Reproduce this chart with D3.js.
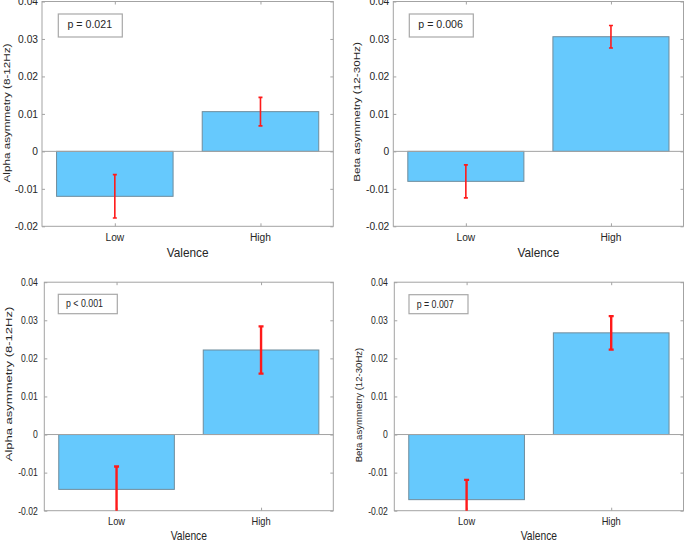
<!DOCTYPE html>
<html>
<head>
<meta charset="utf-8">
<script src="https://cdn.jsdelivr.net/npm/d3@7/dist/d3.min.js"></script>
<style>
html,body{margin:0;padding:0;background:#fff;}
svg{display:block;}
</style>
</head>
<body>
<svg id="chart" width="685" height="542"></svg>
<script>
// ---------- DATA ----------
const categories = ["Low", "High"];
const yTicks = [-0.02, -0.01, 0, 0.01, 0.02, 0.03, 0.04];
const yDomain = [-0.02, 0.04];
const xLabel = "Valence";

const alphaTopMeans = [-0.0120, 0.0106];
const alphaTopErr   = [0.0058, 0.0038];
const betaTopMeans  = [-0.0080, 0.0306];
const betaTopErr    = [0.0044, 0.0030];
const alphaBotMeans = [-0.0144, 0.0222];
const alphaBotErr   = [0.0060, 0.0062];
const betaBotMeans  = [-0.0171, 0.0267];
const betaBotErr    = [0.0052, 0.0044];

const yLabels = ["Alpha asymmetry (8-12Hz)", "Beta asymmetry (12-30Hz)",
                 "Alpha asymmetry (8-12Hz)", "Beta asymmetry (12-30Hz)"];
const pLabels = ["p = 0.021", "p = 0.006", "p < 0.001", "p = 0.007"];

// ---------- LAYOUT (positions / styles only) ----------
const layout = [
  {l:42, r:333.3, t:1.5, b:226.3, tick:{size:11, sx:0.93, gap:4}, cat:{size:11, sx:0.93, y:241},
   xl:{size:12.6, sx:0.94, y:257}, yl:{size:11.7, sx:0.82, x:9.6, y:113},
   box:{x:58.3, y:14, w:64, h:23, tx:67.5, ty:28.2, size:11.2, sx:0.95}, err:{w:1.6, cap:4}},
  {l:393.3, r:683.5, t:1.5, b:226.3, tick:{size:11, sx:0.93, gap:4}, cat:{size:11, sx:0.93, y:241},
   xl:{size:12.6, sx:0.94, y:257}, yl:{size:11.7, sx:0.82, x:359.6, y:112},
   box:{x:409.3, y:14, w:64, h:23, tx:418.3, ty:28.2, size:11.2, sx:0.95}, err:{w:1.6, cap:4}},
  {l:44.3, r:333.3, t:282.2, b:510.7, tick:{size:10.9, sx:0.79, gap:6.5}, cat:{size:11.2, sx:0.83, y:525},
   xl:{size:13, sx:0.79, y:540.3}, yl:{size:13, sx:0.75, x:11.8, y:384},
   box:{x:58.3, y:294.3, w:59, h:19.4, tx:66, ty:307.3, size:11, sx:0.8}, err:{w:2.4, cap:5}},
  {l:394.3, r:683.5, t:282.2, b:510.7, tick:{size:10.9, sx:0.79, gap:6.5}, cat:{size:11.2, sx:0.83, y:525},
   xl:{size:13, sx:0.79, y:540.3}, yl:{size:9.6, sx:1.0, x:362, y:405},
   box:{x:409, y:294.7, w:59, h:19, tx:416.7, ty:307.6, size:11, sx:0.8}, err:{w:2.4, cap:5}}
];

const panelData = [
  {means: alphaTopMeans, errs: alphaTopErr},
  {means: betaTopMeans,  errs: betaTopErr},
  {means: alphaBotMeans, errs: alphaBotErr},
  {means: betaBotMeans,  errs: betaBotErr}
];

const FONT = "'Liberation Sans', Arial, Helvetica, sans-serif";
const TEXT = "#262626";
const AXIS = "#a3a3a3";
const BAR_FILL = "#66c9fd";
const BAR_EDGE = "#6f8c9c";
const ERR = "#ff1a1a";

const svg = d3.select("#chart");

function txt(g, x, y, str, o) {
  let tr = `translate(${x},${y}) scale(${o.sx || 1},1)`;
  if (o.rotate) tr += ` rotate(${o.rotate})`;
  return g.append("text")
    .attr("transform", tr)
    .attr("text-anchor", o.anchor || "start")
    .attr("dy", o.dy || null)
    .style("font-family", FONT)
    .style("font-size", o.size + "px")
    .style("fill", TEXT)
    .text(str);
}

layout.forEach((L, i) => {
  const D = panelData[i];
  const g = svg.append("g");
  const x = d3.scaleLinear().domain([0.5, categories.length + 0.5]).range([L.l, L.r]);
  const y = d3.scaleLinear().domain(yDomain).range([L.b, L.t]);
  const barW = (x(1.4) - x(0.6));

  const clipId = "clip" + i;
  svg.append("defs").append("clipPath").attr("id", clipId)
    .append("rect").attr("x", L.l).attr("y", L.t).attr("width", L.r - L.l).attr("height", L.b - L.t);

  // frame
  g.append("rect").attr("x", L.l).attr("y", L.t).attr("width", L.r - L.l).attr("height", L.b - L.t)
    .attr("fill", "#fff").attr("stroke", AXIS).attr("stroke-width", 1);

  // inward ticks on all four sides
  const yAxisL = d3.axisLeft(y).tickValues(yTicks).tickSizeInner(-3).tickSizeOuter(0).tickFormat("");
  const yAxisR = d3.axisRight(y).tickValues(yTicks).tickSizeInner(-3).tickSizeOuter(0).tickFormat("");
  const xAxisB = d3.axisBottom(x).tickValues(categories.map((c, k) => k + 1)).tickSizeInner(-3).tickSizeOuter(0).tickFormat("");
  const xAxisT = d3.axisTop(x).tickValues(categories.map((c, k) => k + 1)).tickSizeInner(-3).tickSizeOuter(0).tickFormat("");
  [[yAxisL, `translate(${L.l},0)`], [yAxisR, `translate(${L.r},0)`],
   [xAxisB, `translate(0,${L.b})`], [xAxisT, `translate(0,${L.t})`]].forEach(([ax, tr]) => {
    const a = g.append("g").attr("transform", tr).call(ax);
    a.select(".domain").remove();
    a.selectAll(".tick line").attr("stroke", AXIS);
  });

  // y tick labels
  yTicks.forEach(v => {
    txt(g, L.l - L.tick.gap, y(v), v === 0 ? "0" : v.toFixed(2),
        {size: L.tick.size, sx: L.tick.sx, anchor: "end", dy: "0.35em"});
  });

  // category labels
  categories.forEach((c, k) => {
    txt(g, x(k + 1), L.cat.y, c, {size: L.cat.size, sx: L.cat.sx, anchor: "middle"});
  });

  // axis titles
  txt(g, (L.l + L.r) / 2, L.xl.y, xLabel, {size: L.xl.size, sx: L.xl.sx, anchor: "middle"});
  txt(g, L.yl.x, L.yl.y, yLabels[i], {size: L.yl.size, sx: L.yl.sx, anchor: "middle", rotate: -90});

  const plot = g.append("g").attr("clip-path", `url(#${clipId})`);

  // bars
  plot.selectAll("rect.bar").data(D.means).enter().append("rect")
    .attr("class", "bar")
    .attr("x", (d, k) => x(k + 1) - barW / 2)
    .attr("width", barW)
    .attr("y", d => Math.min(y(d), y(0)))
    .attr("height", d => Math.abs(y(d) - y(0)))
    .attr("fill", BAR_FILL)
    .attr("stroke", BAR_EDGE)
    .attr("stroke-width", 1);

  // zero line
  plot.append("line").attr("x1", L.l).attr("x2", L.r).attr("y1", y(0)).attr("y2", y(0))
    .attr("stroke", AXIS).attr("stroke-width", 1);

  // error bars
  D.means.forEach((m, k) => {
    const cx = x(k + 1), e = D.errs[k];
    const eg = plot.append("g").attr("stroke", ERR).attr("stroke-width", L.err.w).attr("fill", "none");
    eg.append("line").attr("x1", cx).attr("x2", cx).attr("y1", y(m + e)).attr("y2", y(m - e));
    [m + e, m - e].forEach(v => {
      eg.append("line").attr("x1", cx - L.err.cap / 2).attr("x2", cx + L.err.cap / 2)
        .attr("y1", y(v)).attr("y2", y(v));
    });
  });

  // p-value box
  g.append("rect").attr("x", L.box.x).attr("y", L.box.y).attr("width", L.box.w).attr("height", L.box.h)
    .attr("fill", "#fff").attr("stroke", "#a8a8a8").attr("stroke-width", 1.2);
  txt(g, L.box.tx, L.box.ty, pLabels[i], {size: L.box.size, sx: L.box.sx});
});
</script>
</body>
</html>
